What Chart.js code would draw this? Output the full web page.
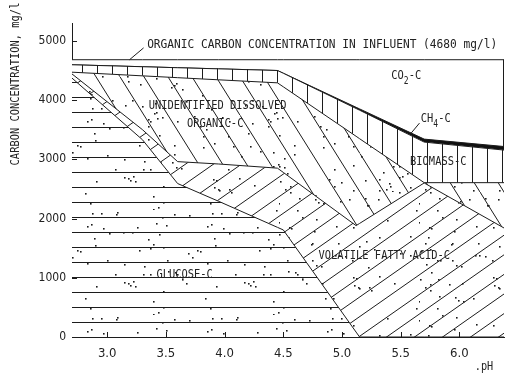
<!DOCTYPE html>
<html>
<head>
<meta charset="utf-8">
<script src="https://cdn.jsdelivr.net/npm/chart.js@4/dist/chart.umd.min.js"></script>
<style>
html,body{margin:0;padding:0;background:#fff;}
canvas{display:block;}
</style>
</head>
<body>
<canvas id="c" width="505" height="374"></canvas>
<script>
// ---- data ----
const pH = [2.7, 3.3, 3.6, 3.95, 4.45, 4.5, 5.12, 5.15, 5.7, 6.38];
const glucoseC      = [4370, 3330, 2590, 2290, 1851, 1807,   83,    0,    0,    0];
const vfaC          = [  70,  170,  370,  630,  999,  971, 1797, 1917, 2600, 1840];
const unidentifiedC = [  30,  908, 1417, 1421, 1440, 1445, 1508, 1430,    5,  765];
const biomassC      = [ 125,  154,  168,  185,  208,  229,  469,  481,  685,  550];
const ch4C          = [   0,    0,    0,    0,    0,    0,   20,   22,   50,   60];
const co2C          = [  85,  118,  135,  154,  182,  228,  803,  830, 1340, 1465];
const influentC = 4680;
const xTicks = [3.0, 3.5, 4.0, 4.5, 5.0, 5.5, 6.0];
const xTickLabels = ['3.0', '3.5', '4.0', '4.5', '5.0', '5.5', '6.0'];
const yTicks = [0, 1000, 2000, 3000, 4000, 5000];
const yTickLabels = ['0', '1000', '2000', '3000', '4000', '5000'];

// ---- hatch patterns ----
const INK = '#1c1c1c';
function makeTile(w, h, draw) {
  const c = document.createElement('canvas');
  c.width = w; c.height = h;
  const g = c.getContext('2d');
  g.fillStyle = '#fff'; g.fillRect(0, 0, w, h);
  g.strokeStyle = INK; g.fillStyle = INK; g.lineWidth = 1;
  draw(g, w, h);
  return g.createPattern(c, 'repeat');
}
function speckle(g, w, h, n, seed) {
  let s = seed >>> 0;
  const next = () => { s = (Math.imul(s, 1664525) + 1013904223) >>> 0; return s / 4294967296; };
  for (let i = 0; i < n; i++) {
    const x = Math.floor(next() * w), y = Math.floor(next() * h);
    g.fillRect(x, y, 1.6, 1.6);
  }
}
const glucosePattern = makeTile(120, 105, (g, w, h) => {
  g.beginPath();
  for (let y = 7.5; y < h; y += 15) { g.moveTo(0, y); g.lineTo(w, y); }
  g.stroke();
  speckle(g, w, h, 55, 11);
});
// "/" lines, slope 0.7, 28 px apart horizontally
const vfaPattern = makeTile(140, 98, (g, w, h) => {
  g.beginPath();
  for (let n = -1; n <= 12; n++) { g.moveTo(0, n * 19.6); g.lineTo(w, n * 19.6 - 98); }
  g.stroke();
  speckle(g, w, h, 60, 23);
});
// "\" lines, slope 1.6, 24 px apart horizontally
const unidPattern = makeTile(120, 192, (g, w, h) => {
  g.beginPath();
  for (let n = -6; n <= 6; n++) { g.moveTo(0, n * 38.4); g.lineTo(w, n * 38.4 + 192); }
  g.stroke();
  speckle(g, w, h, 100, 37);
});
const biomassPattern = makeTile(15, 15, (g, w, h) => {
  g.beginPath(); g.moveTo(7.5, 0); g.lineTo(7.5, h); g.stroke();
});

const pts = arr => arr.map((v, i) => ({x: pH[i], y: v}));

// ---- annotations drawn through the scales ----
const notes = [
  {text: 'ORGANIC CARBON CONCENTRATION IN INFLUENT (4680 mg/l)', x: 3.34, y: 4930, align: 'left'},
  {text: 'UNIDENTIFIED DISSOLVED', x: 3.94, y: 3900, align: 'center'},
  {text: 'ORGANIC-C', x: 3.92, y: 3595, align: 'center'},
  {text: 'BIOMASS-C', x: 5.82, y: 2955, align: 'center'},
  {text: 'VOLATILE FATTY ACID-C', x: 5.36, y: 1367, align: 'center'},
  {text: 'GLUCOSE-C', x: 3.66, y: 1046, align: 'center'}
];
const FONT = '"DejaVu Sans Mono", "Liberation Mono", monospace';
function txt(ctx, s, px, py, align, size, sx) {
  ctx.save();
  ctx.translate(px, py);
  ctx.scale(sx || 0.8, 1);
  ctx.font = size + 'px ' + FONT;
  ctx.textAlign = align; ctx.textBaseline = 'middle';
  ctx.fillStyle = '#222';
  ctx.fillText(s, 0, 0);
  ctx.restore();
}
const extras = {
  id: 'extras',
  afterDatasetsDraw(chart) {
    const {ctx, scales: {x, y}} = chart;
    ctx.save();
    ctx.strokeStyle = INK; ctx.lineWidth = 1;
    // inward ticks
    ctx.beginPath();
    yTicks.forEach(v => { const py = Math.round(y.getPixelForValue(v)) + 0.5; ctx.moveTo(x.left, py); ctx.lineTo(x.left + 5, py); });
    xTicks.forEach(v => { const px = Math.round(x.getPixelForValue(v)) + 0.5; ctx.moveTo(px, y.bottom); ctx.lineTo(px, y.bottom - 5); });
    // right edge of the CO2 band
    const last = pH.length - 1;
    const rx = Math.round(x.getPixelForValue(pH[last])) - 0.5;
    ctx.moveTo(rx, y.getPixelForValue(influentC));
    ctx.lineTo(rx, y.getPixelForValue(influentC - co2C[last]));
    ctx.stroke();
    // leader lines
    ctx.beginPath();
    ctx.moveTo(x.getPixelForValue(3.19), y.getPixelForValue(influentC));
    ctx.lineTo(x.getPixelForValue(3.31), y.getPixelForValue(4880));
    ctx.moveTo(x.getPixelForValue(5.58), y.getPixelForValue(3420));
    ctx.lineTo(x.getPixelForValue(5.66), y.getPixelForValue(3610));
    ctx.stroke();
    // labels
    notes.forEach(n => txt(ctx, n.text, x.getPixelForValue(n.x), y.getPixelForValue(n.y), n.align, 13, n.align === 'left' ? 0.86 : 0.8));
    // CO2-C with subscript
    let px = x.getPixelForValue(5.42), py = y.getPixelForValue(4405);
    txt(ctx, 'CO', px, py, 'left', 13, 0.8); px += 12.5;
    txt(ctx, '2', px, py + 5, 'left', 10, 0.8); px += 5;
    txt(ctx, '-C', px, py, 'left', 13, 0.8);
    // CH4-C with subscript
    px = x.getPixelForValue(5.67); py = y.getPixelForValue(3680);
    txt(ctx, 'CH', px, py, 'left', 13, 0.8); px += 12.5;
    txt(ctx, '4', px, py + 5, 'left', 10, 0.8); px += 5;
    txt(ctx, '-C', px, py, 'left', 13, 0.8);
    // axis titles
    ctx.save();
    ctx.translate(16, 84);
    ctx.rotate(-Math.PI / 2);
    ctx.scale(0.8, 1);
    ctx.font = '13px ' + FONT; ctx.textAlign = 'center'; ctx.textBaseline = 'middle'; ctx.fillStyle = '#222';
    ctx.fillText('CARBON CONCENTRATION, mg/l', 0, 0);
    ctx.restore();
    txt(ctx, '.pH', 484, 367, 'center', 12, 0.85);
    ctx.restore();
  }
};

const line = {borderColor: INK, borderWidth: 1, pointRadius: 0, tension: 0};
new Chart(document.getElementById('c'), {
  type: 'line',
  data: {
    datasets: [
      Object.assign({label: 'GLUCOSE-C', data: pts(glucoseC), fill: 'origin', backgroundColor: glucosePattern}, line),
      Object.assign({label: 'VOLATILE FATTY ACID-C', data: pts(vfaC), fill: '-1', backgroundColor: vfaPattern}, line),
      Object.assign({label: 'UNIDENTIFIED DISSOLVED ORGANIC-C', data: pts(unidentifiedC), fill: '-1', backgroundColor: unidPattern}, line),
      Object.assign({label: 'BIOMASS-C', data: pts(biomassC), fill: '-1', backgroundColor: biomassPattern}, line),
      Object.assign({label: 'CH4-C', data: pts(ch4C), fill: '-1', backgroundColor: '#111'}, line),
      Object.assign({label: 'CO2-C', data: pts(co2C), fill: '-1', backgroundColor: '#fff'}, line)
    ]
  },
  options: {
    responsive: false, animation: false, devicePixelRatio: 1,
    layout: {padding: {top: 23, right: 1, left: 0, bottom: 0}},
    plugins: {legend: {display: false}, tooltip: {enabled: false}},
    scales: {
      x: {
        type: 'linear', min: pH[0], max: pH[pH.length - 1],
        afterBuildTicks: s => { s.ticks = xTicks.map(v => ({value: v})); },
        afterFit: s => { s.height = 37; },
        ticks: {autoSkip: false, maxRotation: 0, padding: 9, color: '#222',
          font: {family: '"Liberation Sans Narrow", "DejaVu Sans Condensed", sans-serif', size: 13},
          callback: (v, i) => xTickLabels[i]},
        grid: {drawOnChartArea: false, drawTicks: false},
        border: {color: INK, width: 1}
      },
      y: {
        stacked: true, min: 0, max: 5300,
        afterBuildTicks: s => { s.ticks = yTicks.map(v => ({value: v})); },
        afterFit: s => { s.width = 72; },
        ticks: {padding: 6, color: '#222',
          font: {family: '"Liberation Sans Narrow", "DejaVu Sans Condensed", sans-serif', size: 12},
          callback: (v, i) => yTickLabels[i]},
        grid: {drawOnChartArea: false, drawTicks: false},
        border: {color: INK, width: 1}
      }
    }
  },
  plugins: [extras]
});
</script>
</body>
</html>
